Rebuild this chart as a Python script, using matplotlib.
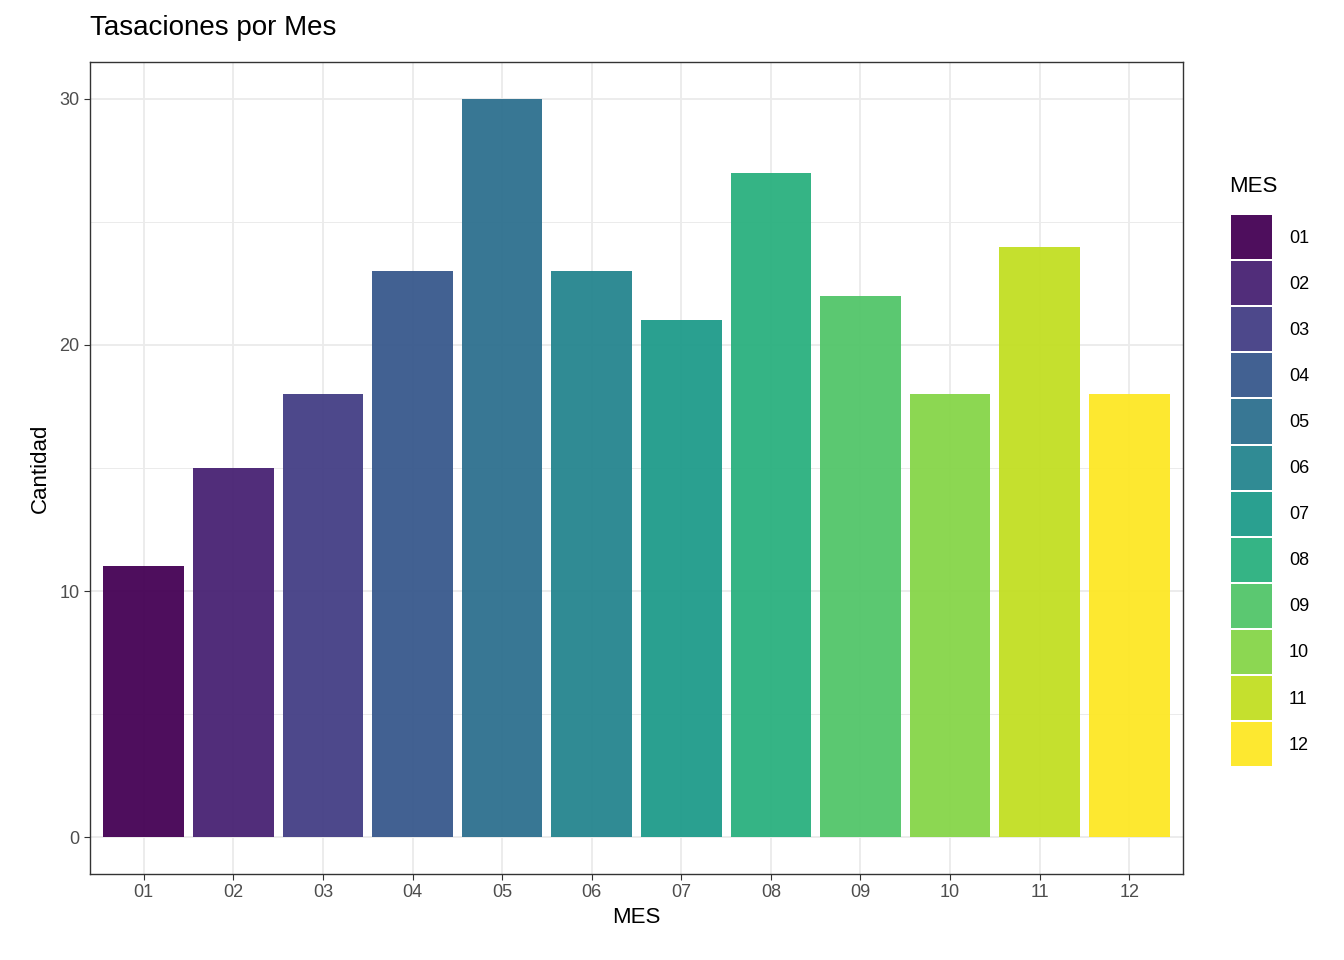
import matplotlib
matplotlib.use("Agg")
import matplotlib.pyplot as plt
import numpy as np
from matplotlib.patches import Rectangle

meses = ["01","02","03","04","05","06","07","08","09","10","11","12"]
cantidad = [11,15,18,23,30,23,21,27,22,18,24,18]
yticks = [0,10,20,30]

plt.rcParams['font.family'] = ['Liberation Sans', 'DejaVu Sans']
W, H = 1344, 960
fig = plt.figure(figsize=(W/100, H/100), dpi=100)
ax = fig.add_axes([90/W, 1-874/H, (1183-90)/W, (874-62)/H])
cols = plt.get_cmap('viridis')(np.linspace(0, 1, len(meses)))
x = np.arange(1, len(meses)+1)
ax.bar(x, cantidad, width=0.9, color=cols, alpha=0.95, zorder=3)
ax.set_xlim(0.4, 12.6)
ax.set_ylim(-1.5, 31.5)
ax.set_xticks(x)
ax.set_xticklabels(meses)
ax.set_yticks(yticks)
ax.set_yticks([5,15,25], minor=True)
ax.grid(True, which='major', color='#ebebeb', lw=1.3, zorder=0)
ax.grid(True, which='minor', axis='y', color='#ebebeb', lw=0.7, zorder=0)
ax.tick_params(which='minor', length=0)
ax.tick_params(which='major', labelsize=13, colors='#333333', length=4, width=0.8, labelcolor='#4d4d4d')
for s in ax.spines.values():
    s.set_color('#333333'); s.set_linewidth(1)
ax.set_xlabel("MES", fontsize=16, labelpad=4)
ax.set_ylabel("Cantidad", fontsize=16, labelpad=6)
fig.text(90/W, 1-28/H, "Tasaciones por Mes", fontsize=20, va='center', ha='left')

# legend
fig.text(1229/W, 1-186/H, "MES", fontsize=16, va='center', ha='left')
top = 215; kh = 46.1
for i, (m, c) in enumerate(zip(meses, cols)):
    y0 = top + i*kh
    fig.patches.append(Rectangle((1231/W, 1-(y0+kh-2)/H), 41/W, (kh-2)/H,
                                 transform=fig.transFigure, facecolor=c, alpha=0.95, edgecolor='none'))
    fig.text(1289/W, 1-(y0+kh/2)/H, m, fontsize=13, va='center', ha='left')

fig.savefig("out.png", dpi=100)
